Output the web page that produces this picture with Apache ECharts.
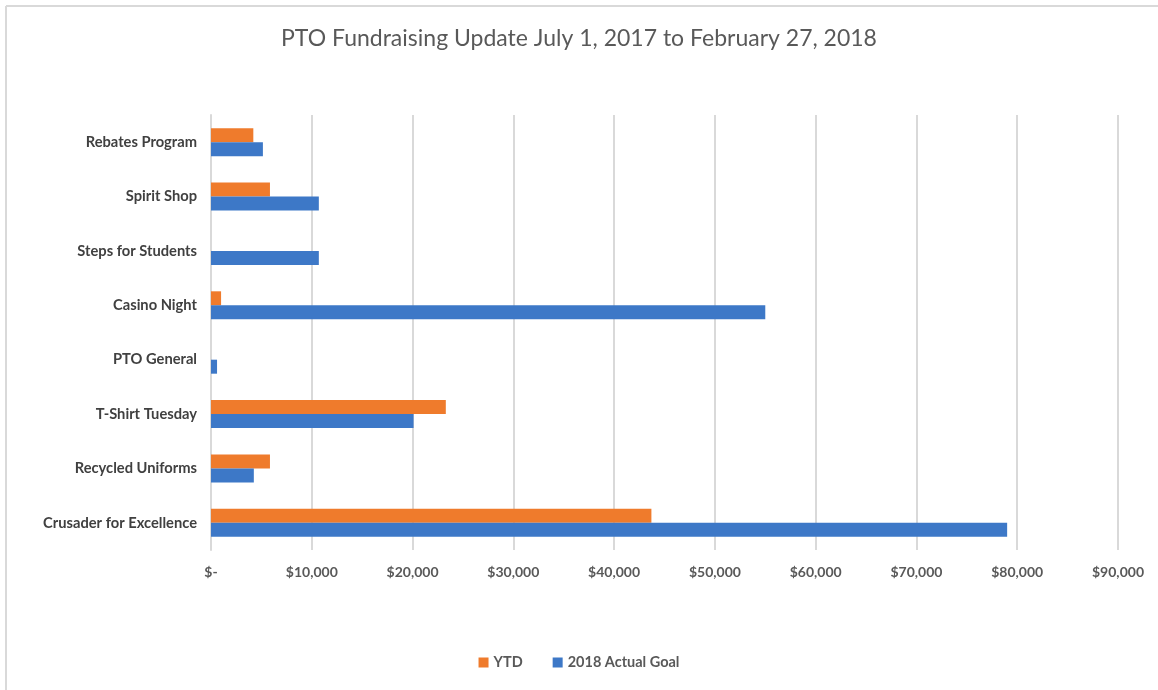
<!DOCTYPE html>
<html>
<head>
<meta charset="utf-8">
<script src="https://cdn.jsdelivr.net/npm/echarts@6/dist/echarts.min.js"></script>
<style>
  html, body { margin: 0; padding: 0; background: #fff; }
  #main { width: 1158px; height: 690px; }
</style>
</head>
<body>
<div id="main"></div>
<script>
// categories bottom -> top (ECharts category y axis starts at the bottom)
var categories = ['Crusader for Excellence', 'Recycled Uniforms', 'T-Shirt Tuesday', 'PTO General',
                  'Casino Night', 'Steps for Students', 'Spirit Shop', 'Rebates Program'];
var ytd = [43700, 5850, 23300, 0, 1000, 0, 5850, 4200];
var goal = [79000, 4250, 20100, 600, 55000, 10700, 10700, 5150];
var seriesNames = ['YTD', '2018 Actual Goal'];

var font = 'Lato, Carlito, "Open Sans", sans-serif';

function money(v) {
    if (v === 0) return '$-';
    return '$' + v.toLocaleString('en-US');
}

var myChart = echarts.init(document.getElementById('main'));
var option = {
    backgroundColor: '#fff',
    animation: false,
    title: {
        text: 'PTO Fundraising Update July 1, 2017 to February 27, 2018',
        left: 'center',
        top: 22,
        textStyle: { fontFamily: font, fontSize: 23, fontWeight: 'normal', color: '#595959' }
    },
    legend: {
        bottom: 15,
        left: 'center',
        itemWidth: 10,
        itemHeight: 10,
        itemGap: 30,
        icon: 'rect',
        textStyle: { fontFamily: font, fontSize: 14.5, fontWeight: 'bold', color: '#595959' },
        data: seriesNames
    },
    graphic: [
        { type: 'line', shape: { x1: 6, y1: 6, x2: 1158, y2: 6 }, style: { stroke: '#d9d9d9', lineWidth: 2 } },
        { type: 'line', shape: { x1: 6, y1: 6, x2: 6, y2: 690 }, style: { stroke: '#d9d9d9', lineWidth: 2 } }
    ],
    grid: { left: 211, right: 40, top: 115, bottom: 140, containLabel: false },
    xAxis: {
        type: 'value',
        min: 0,
        max: 90000,
        interval: 10000,
        axisLine: { show: false },
        axisTick: { show: false },
        axisLabel: {
            margin: 15,
            formatter: money,
            fontFamily: font, fontSize: 14, fontWeight: 'bold', color: '#595959'
        },
        splitLine: { lineStyle: { color: '#d9d9d9', width: 2 } }
    },
    yAxis: {
        type: 'category',
        data: categories,
        axisLine: { lineStyle: { color: '#d9d9d9', width: 2 } },
        axisTick: { show: false },
        axisLabel: { margin: 14, fontFamily: font, fontSize: 14.7, fontWeight: 'bold', color: '#404040' }
    },
    series: [
        {
            name: seriesNames[0], type: 'bar', data: ytd,
            barWidth: 14, barGap: '0%',
            itemStyle: { color: '#ef7b2c' }
        },
        {
            name: seriesNames[1], type: 'bar', data: goal,
            barWidth: 14, barGap: '0%',
            itemStyle: { color: '#3d78c7' }
        }
    ]
};
myChart.setOption(option);
</script>
</body>
</html>
